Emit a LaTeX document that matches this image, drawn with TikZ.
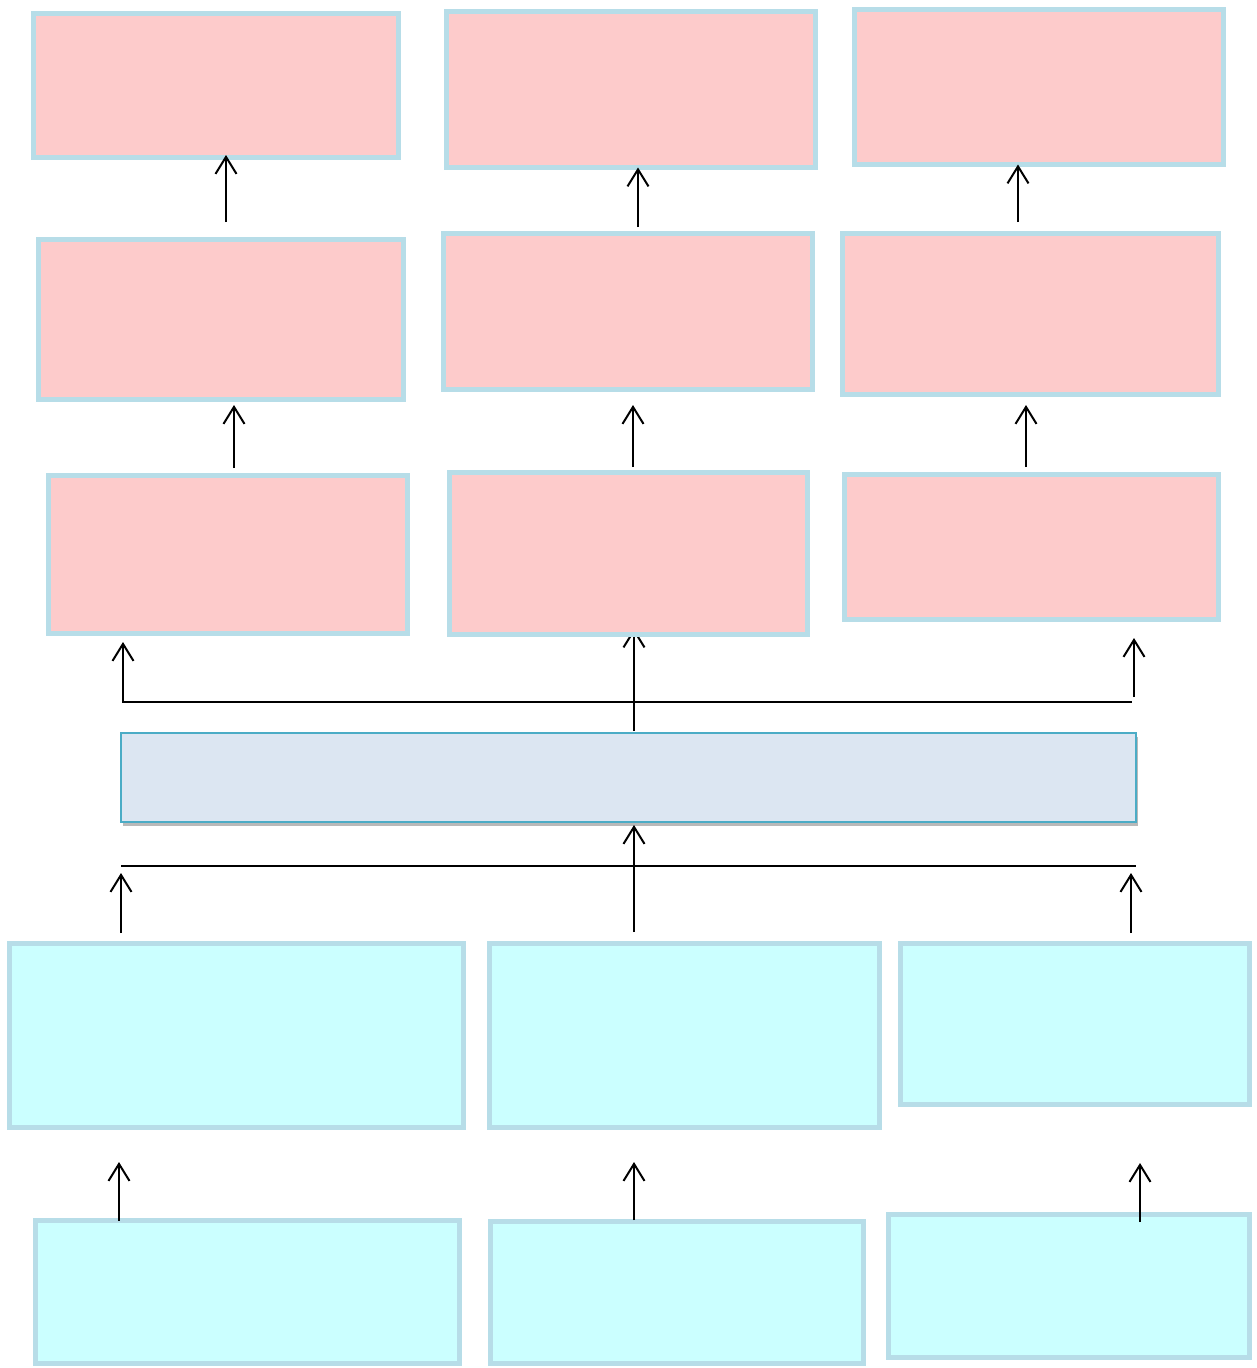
\documentclass[tikz,border=0pt]{standalone}
\usetikzlibrary{arrows.meta,calc,shadows,backgrounds}
\definecolor{pinkfill}{HTML}{FDCBCB}
\definecolor{cyanfill}{HTML}{CBFFFF}
\definecolor{boxedge}{HTML}{B7DDE8}
\definecolor{dfill}{HTML}{DCE6F2}
\definecolor{dedge}{HTML}{4BACC6}
\tikzset{
  pinkbox/.style={draw=boxedge, fill=pinkfill, line width=5pt, inner sep=0pt, outer sep=0pt, anchor=north west},
  cyanbox/.style={draw=boxedge, fill=cyanfill, line width=5pt, inner sep=0pt, outer sep=0pt, anchor=north west},
  midbox/.style={draw=dedge, fill=dfill, line width=2pt, inner sep=0pt, outer sep=0pt, anchor=north west,
     drop shadow={shadow xshift=2pt, shadow yshift=-4pt, opacity=0.5, fill=black!55}},
  arr/.style={-{Straight Barb[length=17pt,width=21pt,line width=2pt]}, line width=2pt, black},
  plainline/.style={line width=2pt, black}
}
\begin{document}
\begin{tikzpicture}[x=1pt,y=-1pt]
\useasboundingbox (0,0) rectangle (1257,1368);
% top row
\node[pinkbox, minimum width=365pt, minimum height=144pt] (A1) at (33.5,13.5) {};
\node[pinkbox, minimum width=369pt, minimum height=156pt] (A2) at (446.5,11.5) {};
\node[pinkbox, minimum width=369pt, minimum height=155pt] (A3) at (854.5,9.5) {};
% second row
\node[pinkbox, minimum width=365pt, minimum height=160pt] (B1) at (38.5,239.5) {};
\node[pinkbox, minimum width=369pt, minimum height=156pt] (B2) at (443.5,233.5) {};
\node[pinkbox, minimum width=376pt, minimum height=161pt] (B3) at (842.5,233.5) {};
% third row
\node[pinkbox, minimum width=359pt, minimum height=158pt] (C1) at (48.5,475.5) {};
\node[pinkbox, minimum width=358pt, minimum height=162pt] (C2) at (449.5,472.5) {};
\node[pinkbox, minimum width=374pt, minimum height=145pt] (C3) at (844.5,474.5) {};
% middle bar
\node[midbox, minimum width=1015pt, minimum height=89pt] (D) at (121,733) {};
% cyan rows
\node[cyanbox, minimum width=454pt, minimum height=184pt] (E1) at (9.5,943.5) {};
\node[cyanbox, minimum width=390pt, minimum height=184pt] (E2) at (489.5,943.5) {};
\node[cyanbox, minimum width=349pt, minimum height=161pt] (E3) at (900.5,943.5) {};
\node[cyanbox, minimum width=424pt, minimum height=143pt] (F1) at (35.5,1220.5) {};
\node[cyanbox, minimum width=373pt, minimum height=142pt] (F2) at (490.5,1221.5) {};
\node[cyanbox, minimum width=361pt, minimum height=143pt] (F3) at (888.5,1214.5) {};

% row 2 -> row 1
\coordinate (b1s) at ($(B1.north)+(5,-17.5)$);
\coordinate (b2s) at ($(B2.north)+(10,-6.5)$);
\coordinate (b3s) at ($(B3.north)+(-12.5,-11.5)$);
\draw[arr, shorten >=-2.5pt] (b1s) -- (b1s |- A1.south);
\draw[arr] (b2s) -- (b2s |- A2.south);
\draw[arr] (b3s) -- (b3s |- A3.south);
% row 3 -> row 2
\coordinate (c1s) at ($(C1.north)+(6,-7.5)$);
\coordinate (c2s) at ($(C2.north)+(4.5,-5.5)$);
\coordinate (c3s) at ($(C3.north)+(-5.5,-7.5)$);
\draw[arr, shorten >=5.5pt] (c1s) -- (c1s |- B1.south);
\draw[arr, shorten >=15.5pt] (c2s) -- (c2s |- B2.south);
\draw[arr, shorten >=10.5pt] (c3s) -- (c3s |- B3.south);

% middle bar -> row 3
\coordinate (dtop) at ($(D.north)+(5.5,0)$);
\coordinate (hbar) at ($(dtop)+(0,-31)$);
\coordinate (leftTip) at (123,642);
\coordinate (rightEnd) at (1132,702);
\coordinate (rightStart) at (1134,697);
\coordinate (rightTip) at (1134,638);
\begin{pgfonlayer}{background}
\draw[arr] ($(dtop)+(0,-2)$) -- ($(dtop |- C2.south)+(0,-6)$);
\end{pgfonlayer}
\draw[arr] (hbar) -| (leftTip);
\draw[plainline] (hbar) -- (rightEnd);
\draw[arr] (rightStart) -- (rightTip);

% row E -> middle bar
\coordinate (lbarL) at (121,866);
\coordinate (lbarR) at (1136,866);
\coordinate (eL) at (121,933);
\coordinate (eM) at (634,932);
\coordinate (eR) at (1131,933);
\draw[plainline] (lbarL) -- (lbarR);
\draw[arr] (eM) -- ($(eM |- D.south)+(0,3)$);
\draw[arr] (eL) -- (eL |- 0,873);
\draw[arr] (eR) -- (eR |- 0,873);

% row F -> row E
\coordinate (f1s) at ($(F1.north west)+(83.5,0)$);
\coordinate (f2s) at ($(F2.north west)+(143.5,-1.5)$);
\coordinate (f3s) at ($(F3.north west)+(251.5,7.5)$);
\draw[arr] (f1s) -- (f1s |- 0,1162);
\draw[arr] (f2s) -- (f2s |- 0,1162);
\draw[arr] (f3s) -- (f3s |- 0,1163);
\end{tikzpicture}
\end{document}
